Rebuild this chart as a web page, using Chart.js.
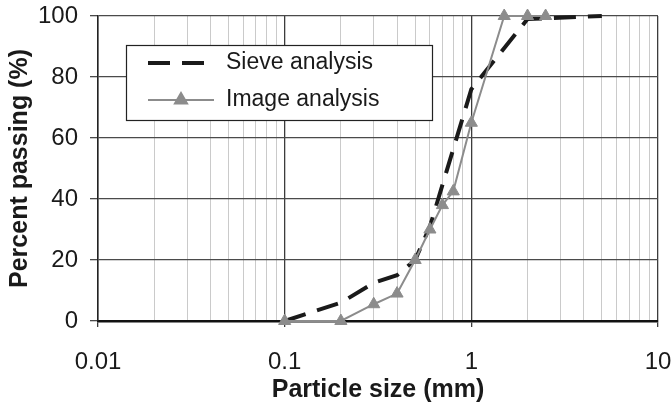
<!DOCTYPE html>
<html>
<head>
<meta charset="utf-8">
<script src="https://cdn.jsdelivr.net/npm/chart.js@4.4.1/dist/chart.umd.min.js"></script>
<style>
  html, body { margin: 0; padding: 0; background: #fff; }
  #wrap { width: 672px; height: 406px; }
</style>
</head>
<body>
<div id="wrap"><canvas id="grading_chart" width="672" height="406"></canvas></div>
<script>
// grading curves
var seriesNames = ['Sieve analysis', 'Image analysis'];
var sieveSizes = [0.1, 0.2, 0.3, 0.4, 0.5, 0.6, 1, 2, 5];
var sievePassing = [0, 6, 12.5, 15, 20, 31, 76, 99, 100];
var imageSizes = [0.1, 0.2, 0.3, 0.4, 0.5, 0.6, 0.7, 0.8, 1, 1.5, 2, 2.5];
var imagePassing = [0, 0, 5.5, 9, 20, 30, 38, 42.5, 65, 100, 100, 100];
var xTickLabels = ['0.01', '0.1', '1', '10'];
var yTickLabels = ['0', '20', '40', '60', '80', '100'];

var fontFamily = "'Liberation Sans', Arial, Helvetica, sans-serif";

var toPoints = function(xs, ys){
  var pts = [];
  for (var i = 0; i < xs.length; i++) {
    pts.push({x: xs[i], y: ys[i]});
  }
  return pts;
};

var isDecade = function(v){
  var l = Math.log10(v);
  return Math.abs(l - Math.round(l)) < 1e-6;
};

// legend box drawn inside the plot, like the original
var boxLegend = {
  id: 'boxLegend',
  afterDatasetsDraw: function(chart){
    var ctx = chart.ctx;
    var sets = chart.data.datasets;
    var bx = 126, by = 45, bw = 306, bh = 75;
    ctx.save();
    ctx.fillStyle = '#fff';
    ctx.fillRect(bx, by, bw, bh);
    ctx.strokeStyle = '#222';
    ctx.lineWidth = 1.2;
    ctx.strokeRect(bx + 0.5, by + 0.5, bw, bh);

    var rows = [63, 100];
    for (var i = 0; i < sets.length; i++) {
      var ds = sets[i];
      var y = rows[i];
      ctx.beginPath();
      ctx.strokeStyle = ds.borderColor;
      ctx.lineWidth = ds.borderWidth;
      ctx.setLineDash(ds.borderDash || []);
      ctx.moveTo(148, y);
      ctx.lineTo(214, y);
      ctx.stroke();
      ctx.setLineDash([]);
      if (ds.pointRadius > 0) {
        ctx.fillStyle = ds.pointBackgroundColor;
        ctx.strokeStyle = ds.pointBorderColor;
        Chart.helpers.drawPoint(ctx, {
          pointStyle: ds.pointStyle,
          radius: ds.pointRadius,
          borderWidth: 1
        }, 181, y);
      }
      ctx.fillStyle = '#1a1a1a';
      ctx.font = '23px ' + fontFamily;
      ctx.textBaseline = 'middle';
      ctx.textAlign = 'left';
      ctx.fillText(seriesNames[i], 226, y);
    }
    ctx.restore();
  }
};

var context = document.getElementById('grading_chart').getContext('2d');
var gradingChart = new Chart(context, {
  type: 'line',
  data: {
    datasets: [{
      label: seriesNames[0],
      data: toPoints(sieveSizes, sievePassing),
      borderColor: '#1a1a1a',
      backgroundColor: '#1a1a1a',
      borderWidth: 4,
      borderDash: [22, 12],
      pointRadius: 0,
      tension: 0,
      order: 2,
      clip: false
    }, {
      label: seriesNames[1],
      data: toPoints(imageSizes, imagePassing),
      borderColor: '#8c8c8c',
      backgroundColor: '#8c8c8c',
      borderWidth: 2,
      pointStyle: 'triangle',
      pointRadius: 7,
      pointBackgroundColor: '#8c8c8c',
      pointBorderColor: '#8c8c8c',
      pointBorderWidth: 1,
      tension: 0,
      order: 1,
      clip: false
    }]
  },
  plugins: [boxLegend],
  options: {
    responsive: false,
    animation: false,
    devicePixelRatio: 1,
    layout: {
      padding: {left: 0, right: 14, top: 16, bottom: 0}
    },
    plugins: {
      legend: { display: false },
      tooltip: { enabled: false }
    },
    scales: {
      x: {
        type: 'logarithmic',
        min: 0.01,
        max: 10,
        afterBuildTicks: function(scale){
          var ticks = [];
          var decades = [0.01, 0.1, 1];
          for (var d = 0; d < decades.length; d++) {
            for (var m = 1; m < 10; m++) {
              ticks.push({value: parseFloat((decades[d] * m).toPrecision(6))});
            }
          }
          ticks.push({value: 10});
          scale.ticks = ticks;
        },
        afterFit: function(scale){
          scale.height = 85;
          scale.paddingLeft = 0;
          scale.paddingRight = 0;
        },
        ticks: {
          autoSkip: false,
          maxRotation: 0,
          minRotation: 0,
          padding: 21,
          color: '#1a1a1a',
          font: { family: fontFamily, size: 24 },
          callback: function(value){
            if (!isDecade(value)) return '';
            return xTickLabels[Math.round(Math.log10(value)) + 2];
          }
        },
        grid: {
          color: function(c){ return c.tick && isDecade(c.tick.value) ? '#3c3c3c' : '#cacaca'; },
          lineWidth: function(c){ return c.tick && isDecade(c.tick.value) ? 1.3 : 1; },
          tickColor: function(c){ return c.tick && isDecade(c.tick.value) ? '#3c3c3c' : 'rgba(0,0,0,0)'; },
          tickLength: 6
        },
        border: { display: true, color: '#111', width: 2.5 },
        title: {
          display: true,
          text: 'Particle size (mm)',
          color: '#1a1a1a',
          font: { family: fontFamily, size: 25, weight: 'bold' },
          padding: { top: 0, bottom: 1 }
        }
      },
      y: {
        min: 0,
        max: 100,
        afterFit: function(scale){
          scale.width = 98;
          scale.paddingTop = 0;
          scale.paddingBottom = 0;
        },
        ticks: {
          stepSize: 20,
          padding: 12,
          color: '#1a1a1a',
          font: { family: fontFamily, size: 24 },
          callback: function(value, index){ return yTickLabels[index]; }
        },
        grid: {
          color: '#4a4a4a',
          lineWidth: 1.3,
          tickLength: 8,
          tickColor: '#4a4a4a'
        },
        border: { display: true, color: '#222', width: 1.5 },
        title: {
          display: true,
          text: 'Percent passing (%)',
          color: '#1a1a1a',
          font: { family: fontFamily, size: 25, weight: 'bold' },
          padding: { top: 5, bottom: 0 }
        }
      }
    }
  }
});
</script>
</body>
</html>
